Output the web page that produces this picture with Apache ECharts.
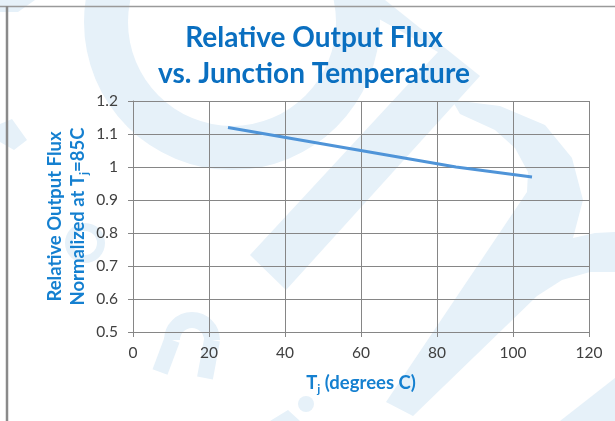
<!DOCTYPE html>
<html>
<head>
<meta charset="utf-8">
<script src="https://cdn.jsdelivr.net/npm/echarts@6/dist/echarts.min.js"></script>
<style>
html,body{margin:0;padding:0;background:#fff;}
#chart{width:615px;height:421px;}
</style>
</head>
<body>
<div id="chart"></div>
<script>
// Data
var temperatures = [25, 85, 105];           // Tj, degrees C
var relativeFlux = [1.12, 1.00, 0.97];      // normalized at Tj = 85C
var xTicks = [0, 20, 40, 60, 80, 100, 120];
var yTicks = [0.5, 0.6, 0.7, 0.8, 0.9, 1.0, 1.1, 1.2];

var titleText = 'Relative Output Flux\nvs. Junction Temperature';

var seriesData = temperatures.map(function (t, i) { return [t, relativeFlux[i]]; });

var wm = '#e6f1f9';
var nameColor = '#1580d0';
var chart = echarts.init(document.getElementById('chart'));
chart.setOption({
  backgroundColor: '#ffffff',
  animation: false,
  title: {
    text: titleText,
    left: 314,
    textAlign: 'center',
    top: 20,
    padding: 0,
    textStyle: {
      fontFamily: 'Lato',
      fontWeight: 'bold',
      fontSize: 28,
      lineHeight: 36,
      color: '#0a6fc0'
    }
  },
  graphic: [
    { type: 'ring', z: -10, silent: true, shape: { cx: 232, cy: 22, r: 148, r0: 104 }, style: { fill: wm } },
    { type: 'polygon', z: -10, silent: true, shape: { points: [[345,0],[385,0],[480,76],[286,290],[250,255],[438,52]] }, style: { fill: wm } },
    { type: 'polygon', z: -10, silent: true, shape: { points: [[452,100],[500,106],[545,125],[572,158],[583,200],[573,238],[595,233],[615,232],[615,272],[590,272],[562,280],[537,296],[413,416],[386,402],[527,192],[528,172],[515,148],[495,130],[460,114]] }, style: { fill: wm } },
    { type: 'polygon', z: -10, silent: true, shape: { points: [[560,421],[615,378],[615,421]] }, style: { fill: wm } },
    { type: 'polygon', z: -10, silent: true, shape: { points: [[0,0],[35,0],[18,12],[0,12]] }, style: { fill: wm } },
    { type: 'polygon', z: -10, silent: true, shape: { points: [[0,124],[12,119],[27,140],[14,150],[0,142]] }, style: { fill: wm } },
    { type: 'ring', z: -10, silent: true, shape: { cx: 85, cy: 243, r: 20, r0: 12 }, style: { fill: wm } },
    { type: 'arc', z: -10, silent: true, shape: { cx: 192, cy: 340, r: 20, startAngle: Math.PI, endAngle: 2 * Math.PI, clockwise: true }, style: { fill: null, stroke: wm, lineWidth: 16 } },
    { type: 'polyline', z: -10, silent: true, shape: { points: [[172,340],[160,372]] }, style: { fill: null, stroke: wm, lineWidth: 16 } },
    { type: 'polyline', z: -10, silent: true, shape: { points: [[212,340],[205,378]] }, style: { fill: null, stroke: wm, lineWidth: 16 } },
    { type: 'circle', z: -10, silent: true, shape: { cx: 306, cy: 404, r: 8 }, style: { fill: wm } },
    { type: 'polygon', z: -10, silent: true, shape: { points: [[270,421],[288,410],[300,421]] }, style: { fill: wm } },
    { type: 'line', z: 10, silent: true, shape: { x1: 0, y1: 6.5, x2: 615, y2: 6.5 }, style: { stroke: '#9a9a9a', lineWidth: 1.5 } },
    { type: 'line', z: 10, silent: true, shape: { x1: 7, y1: 6, x2: 7, y2: 421 }, style: { stroke: '#8a8a8a', lineWidth: 2.5 } }
  ],
  grid: { left: 133, right: 26, top: 101, bottom: 89, containLabel: false },
  xAxis: {
    type: 'value',
    min: xTicks[0],
    max: xTicks[xTicks.length - 1],
    interval: xTicks[1] - xTicks[0],
    name: '{n|T}{s|j}{n| (degrees C)}',
    nameLocation: 'middle',
    nameGap: 39,
    nameMoveOverlap: false,
    nameTextStyle: {
      rich: {
        n: { fontFamily: 'Lato', fontWeight: 'bold', fontSize: 18.5, color: nameColor, lineHeight: 24 },
        s: { fontFamily: 'Lato', fontWeight: 'bold', fontSize: 12, color: nameColor, lineHeight: 12, verticalAlign: 'bottom' }
      }
    },
    axisLine: { show: true, lineStyle: { color: '#868686', width: 1 } },
    axisTick: { show: true, length: 5, lineStyle: { color: '#868686' } },
    splitLine: { show: true, lineStyle: { color: '#868686', width: 1 } },
    axisLabel: { color: '#404040', fontFamily: 'Lato', fontSize: 15.5, margin: 13 }
  },
  yAxis: {
    type: 'value',
    min: yTicks[0],
    max: yTicks[yTicks.length - 1],
    interval: 0.1,
    name: '{n|Relative Output Flux}\n{n|Normalized at T}{s|j}{n|=85C}',
    nameLocation: 'middle',
    nameRotate: 90,
    nameGap: 43,
    nameMoveOverlap: false,
    nameTextStyle: {
      align: 'center',
      rich: {
        n: { fontFamily: 'Lato', fontWeight: 'bold', fontSize: 18.5, color: nameColor, lineHeight: 23 },
        s: { fontFamily: 'Lato', fontWeight: 'bold', fontSize: 12, color: nameColor, lineHeight: 12, verticalAlign: 'bottom' }
      }
    },
    axisLine: { show: true, lineStyle: { color: '#868686', width: 1 } },
    axisTick: { show: true, length: 5, lineStyle: { color: '#868686' } },
    splitLine: { show: true, lineStyle: { color: '#868686', width: 1 } },
    axisLabel: { color: '#404040', fontFamily: 'Lato', fontSize: 15.5, margin: 15 }
  },
  series: [{
    type: 'line',
    data: seriesData,
    showSymbol: false,
    symbol: 'none',
    smooth: false,
    lineStyle: { color: '#4f94d8', width: 3 },
    z: 5
  }]
});
</script>
</body>
</html>
